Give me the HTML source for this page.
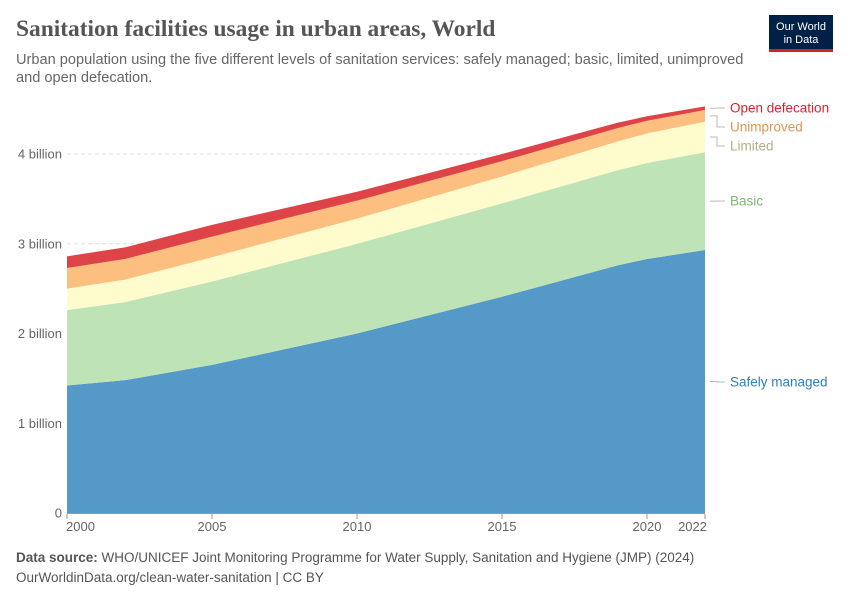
<!DOCTYPE html>
<html><head><meta charset="utf-8"><style>
body{margin:0;background:#fff;font-family:"Liberation Sans",sans-serif}
svg text{font-family:"Liberation Sans",sans-serif}
</style></head><body>
<svg width="850" height="600" xmlns="http://www.w3.org/2000/svg">
<text x="16" y="36" font-weight="bold" font-size="23.4" fill="#555" style="font-family:'Liberation Serif',serif">Sanitation facilities usage in urban areas, World</text>
<text x="16" y="64" font-size="14.6" fill="#666">Urban population using the five different levels of sanitation services: safely managed; basic, limited, unimproved</text>
<text x="16" y="82" font-size="14.6" fill="#666">and open defecation.</text>
<g>
<rect x="769" y="15" width="64" height="36" fill="#002147"/>
<rect x="769" y="49" width="64" height="3" fill="#ce261e"/>
<text x="801" y="30" font-size="11" fill="#fff" text-anchor="middle">Our World</text>
<text x="801" y="43" font-size="11" fill="#fff" text-anchor="middle">in Data</text>
</g>
<g id="grid"></g>
<g id="areas"></g>
<g id="axes"></g>
<g id="labels"></g>
<text x="16" y="562" font-size="13.5" fill="#555"><tspan font-weight="bold">Data source:</tspan> WHO/UNICEF Joint Monitoring Programme for Water Supply, Sanitation and Hygiene (JMP) (2024)</text>
<text x="16" y="582" font-size="13.5" fill="#555">OurWorldinData.org/clean-water-sanitation | CC BY</text>
</svg>
<script>
const years=[2000,2002,2005,2010,2015,2019,2020,2022];
const safelyManaged=[1.42,1.48,1.65,2.0,2.41,2.76,2.83,2.93];
const basic=[0.84,0.87,0.93,1.0,1.04,1.06,1.07,1.09];
const limited=[0.24,0.25,0.27,0.28,0.30,0.32,0.33,0.34];
const unimproved=[0.23,0.23,0.23,0.20,0.17,0.15,0.14,0.13];
const openDefecation=[0.13,0.13,0.13,0.10,0.08,0.06,0.05,0.04];
const yTicks=[0,1,2,3,4];
const yTickLabels=["0","1 billion","2 billion","3 billion","4 billion"];
const xTicks=[2000,2005,2010,2015,2020,2022];
const NS="http://www.w3.org/2000/svg";
const x=v=>67+(v-2000)/22*638;
const y=v=>513-v*89.75;
function mk(t,a,p){const e=document.createElementNS(NS,t);for(const k in a)e.setAttribute(k,a[k]);document.getElementById(p).appendChild(e);return e;}
yTicks.forEach((t,i)=>{
 if(t>0){const l=mk('line',{x1:67,x2:705,y1:y(t),y2:y(t),stroke:'#ddd','stroke-dasharray':'4,3'},'grid');
 
 }
 const tx=mk('text',{x:62,y:y(t)+4.5,'text-anchor':'end','font-size':13,fill:'#666'},'axes');tx.textContent=yTickLabels[i];
 
 
});
const series=[
 {name:'safely-managed',label:'Safely managed',vals:safelyManaged,fill:'#5499c7',col:'#2d7fc0'},
 {name:'basic',label:'Basic',vals:basic,fill:'#bde3b6',col:'#7fb875'},
 {name:'limited',label:'Limited',vals:limited,fill:'#fefccd',col:'#b3ae86'},
 {name:'unimproved',label:'Unimproved',vals:unimproved,fill:'#fdbf80',col:'#df9450'},
 {name:'open-defecation',label:'Open defecation',vals:openDefecation,fill:'#de4347',col:'#e0212c'}];
let base=years.map(()=>0);
const mids=[];
series.forEach(s=>{
 const top=base.map((b,i)=>b+s.vals[i]);
 let d='M'+years.map((yr,i)=>x(yr)+','+y(top[i])).join('L');
 d+='L'+years.slice().reverse().map((yr,j)=>{const i=years.length-1-j;return x(yr)+','+y(base[i]);}).join('L')+'Z';
 const p=mk('path',{d:d,fill:s.fill},'areas');
 
 
 const n=years.length-1;
 mids.push((y(base[n])+y(top[n]))/2);
 base=top;
});
const labelY=[382,201,146,127,108];
series.forEach((s,i)=>{
 const ly=labelY[i],my=mids[i];
 const l=mk('path',{d:`M710,${my}H717V${ly}H725`,fill:'none',stroke:'#bbb'},'labels');
 
 
 const t=mk('text',{x:730,y:ly+4.5,'font-size':13.5,fill:s.col},'labels');t.textContent=s.label;
 
 
});
const ax=mk('line',{x1:67,x2:705,y1:513.5,y2:513.5,stroke:'#999'},'axes');


xTicks.forEach(t=>{
 const tk=mk('line',{x1:x(t),x2:x(t),y1:514,y2:519,stroke:'#999'},'axes');
 
 
 const anchor=t===2000?'start':(t===2022?'end':'middle');
 const xx=t===2000?x(t)-1:(t===2022?x(t)+2:x(t));
 const tx=mk('text',{x:xx,y:531,'text-anchor':anchor,'font-size':13,fill:'#666'},'axes');tx.textContent=t;
 
 
});
</script>
</body></html>
